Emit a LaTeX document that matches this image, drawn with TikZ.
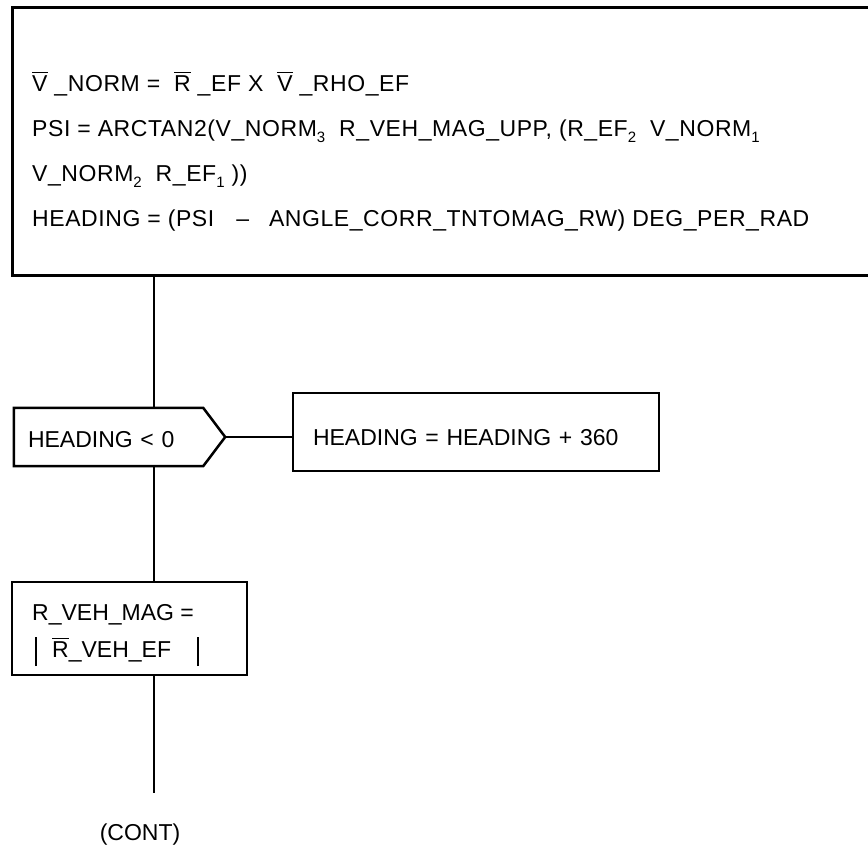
\documentclass[tikz,border=0pt]{standalone}
\usepackage{fontspec}
\setmainfont{Liberation Sans}
\newfontfamily\calcfont[LetterSpace=2.5]{Liberation Sans}
\usetikzlibrary{positioning}

% bar over a letter, subscript index
\newcommand{\ovr}[1]{\sbox0{#1}\rlap{\rule[\dimexpr\ht0+2.5pt\relax]{\wd0}{1.2pt}}#1}
\newcommand{\sbs}[1]{\raisebox{-6pt}{\fontsize{15}{15}\selectfont #1}}

\begin{document}
\begin{tikzpicture}[x=1pt, y=-1pt,
  box/.style={draw, rectangle, line width=2.5pt, inner sep=0pt},
  flow/.style={draw, line width=2.2pt},
  lowtext/.style={font=\fontsize{23}{37}\selectfont},
  calctext/.style={font=\calcfont\fontsize{23}{45}\selectfont, align=left,
                   inner sep=0pt, anchor=north west},
]
  \path[use as bounding box, clip] (0,0) rectangle (868,844);

  % computation block (runs past the right edge)
  \node[box, anchor=north west, minimum width=890pt, minimum height=268pt] (calc) at (11,6) {};
  \node[calctext] (calctxt) at (32,69)
    {\rule{0pt}{22pt}\ovr{V} \_NORM = \ \ovr{R} \_EF X \ \ovr{V} \_RHO\_EF\\
     PSI = ARCTAN2(V\_NORM\sbs{3} \ R\_VEH\_MAG\_UPP, (R\_EF\sbs{2} \ V\_NORM\sbs{1}\\
     V\_NORM\sbs{2} \ R\_EF\sbs{1} ))\\
     HEADING = (PSI\hspace{22pt}\textendash\hspace{20pt}ANGLE\_CORR\_TNTOMAG\_RW) DEG\_PER\_RAD};

  \coordinate (trunk) at (154,0);

  % test on heading
  \node[lowtext, minimum width=189pt, minimum height=58pt, text width=161pt,
        inner xsep=14pt, inner ysep=0pt, align=left, text height=21pt,
        text depth=0.4pt] (dec) at (108.5,437) {HEADING < 0};
  \draw[box] (dec.north west) -- (dec.north east) -- ([xshift=22pt]dec.east) coordinate (dectip)
    -- (dec.south east) -- (dec.south west) -- cycle;

  \node[box, lowtext, minimum width=366pt, minimum height=78pt, text width=326pt,
        inner xsep=20pt, align=left, text height=27pt, text depth=0.4pt] (incr)
        at (476,432) {HEADING = HEADING + 360};

  % magnitude
  \node[box, minimum width=235pt, minimum height=93pt] (mag) at (129.5,628.5) {};
  \node[lowtext, align=left, inner sep=0pt, anchor=north west] (magtxt) at (32,600)
    {\rule{0pt}{20pt}R\_VEH\_MAG =\\
     \hspace{3pt}\rule[-9pt]{2pt}{29pt}\hspace{15pt}\ovr{R}\_VEH\_EF\hspace{26pt}\rule[-9pt]{2pt}{29pt}};

  \node[lowtext, anchor=base] (cont) at (140,840) {(CONT)};
  \coordinate (contend) at (154,793);

  % connectors
  \draw[flow] (calc.south -| trunk) -- (dec.north -| trunk);
  \draw[flow] (dec.south -| trunk) -- (mag.north -| trunk);
  \draw[flow] (mag.south -| trunk) -- (contend);
  \draw[flow] (dectip) -- (dectip -| incr.west);
\end{tikzpicture}
\end{document}
